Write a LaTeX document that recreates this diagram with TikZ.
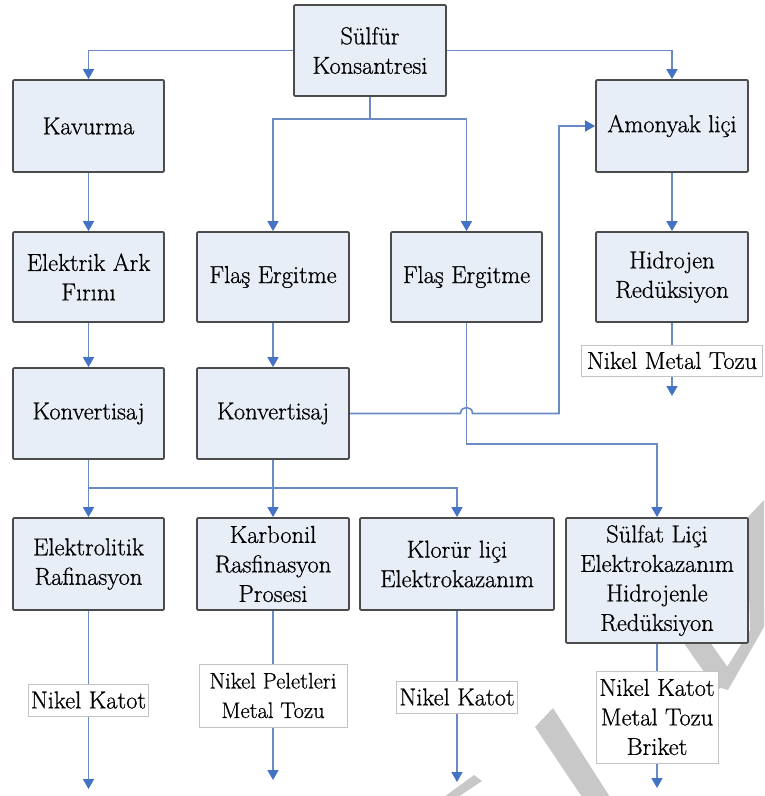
\documentclass[tikz,border=0pt]{standalone}
\usepackage{fontspec}
\newfontfamily\chartfont{Latin Modern Roman}[FakeBold=0.7]
\usetikzlibrary{arrows.meta,calc,backgrounds}

\definecolor{boxfill}{RGB}{232,238,247}
\definecolor{boxline}{RGB}{75,75,75}
\definecolor{linec}{RGB}{105,138,195}
\definecolor{arrowc}{RGB}{68,114,196}
\definecolor{tagline}{RGB}{195,195,195}
\definecolor{markc}{RGB}{200,200,200}

\tikzset{
  procbox/.style={draw=boxline, line width=1.8pt, fill=boxfill, rounded corners=1.2pt,
    inner sep=0pt, align=center, font=\chartfont\fontsize{24.5}{29.5}\selectfont},
  tagbox/.style={draw=tagline, line width=0.6pt, fill=white,
    inner sep=0pt, align=center, font=\chartfont\fontsize{24.5}{29.5}\selectfont},
  conn/.style={draw=linec, line width=1.6pt},
  arr/.style={conn, -{Triangle[width=11pt,length=10pt,color=arrowc]}},
  greystroke/.style={fill=markc, draw=none}
}

\begin{document}
\begin{tikzpicture}[x=1pt,y=-1pt]
\useasboundingbox (0,0) rectangle (764,796);

% process boxes
\node[procbox, minimum width=152pt, minimum height=91pt] (sulfur) at (370,50.5) {Sülfür\\Konsantresi};
\node[procbox, minimum width=151pt, minimum height=92pt] (kavurma) at (88.5,126) {Kavurma};
\node[procbox, minimum width=152pt, minimum height=92pt] (amonyak) at (672,126) {Amonyak liçi};

\node[procbox, minimum width=151pt, minimum height=90pt] (ark) at (88.5,277) {Elektrik Ark\\Fırını};
\node[procbox, minimum width=152pt, minimum height=90pt] (flas1) at (273,277) {Flaş Ergitme};
\node[procbox, minimum width=151pt, minimum height=90pt] (flas2) at (466.5,277) {Flaş Ergitme};
\node[procbox, minimum width=152pt, minimum height=90pt] (hidrojen) at (672,277) {Hidrojen\\Redüksiyon};

\node[procbox, minimum width=151pt, minimum height=91pt] (konv1) at (88.5,413.5) {Konvertisaj};
\node[procbox, minimum width=152pt, minimum height=91pt] (konv2) at (273,413.5) {Konvertisaj};

\node[procbox, minimum width=151pt, minimum height=92pt] (elektrolitik) at (88.5,564) {Elektrolitik\\Rafinasyon};
\node[procbox, minimum width=152pt, minimum height=92pt] (karbonil) at (273,564) {Karbonil\\Rasfinasyon\\Prosesi};
\node[procbox, minimum width=194pt, minimum height=92pt] (klorur) at (457,564) {Klorür liçi\\Elektrokazanım};
\node[procbox, minimum width=182pt, minimum height=125pt] (sulfat) at (657,580.5) {Sülfat Liçi\\Elektrokazanım\\Hidrojenle\\Redüksiyon};

% product tags
\node[tagbox, minimum width=181pt, minimum height=31pt] (nmt) at (672,360.5) {Nikel Metal Tozu};
\node[tagbox, minimum width=120pt, minimum height=32pt] (nk1) at (88.5,700) {Nikel Katot};
\node[tagbox, minimum width=148pt, minimum height=63pt, font=\chartfont\fontsize{22.5}{29.5}\selectfont] (npmt) at (273,695.5) {Nikel Peletleri\\Metal Tozu};
\node[tagbox, minimum width=121pt, minimum height=32pt] (nk2) at (457,697) {Nikel Katot};
\node[tagbox, minimum width=122pt, minimum height=92pt] (nkmb) at (657,717) {Nikel Katot\\Metal Tozu\\Briket};

% free ends of the outgoing arrows
\coordinate (e1) at (88.5,789);
\coordinate (e2) at (273,780);
\coordinate (e3) at (457,782);
\coordinate (e4) at (657,788);
\coordinate (e5) at (672,396);

% routing points
\coordinate (split) at ($(sulfur.south)+(0,22)$);
\coordinate (hop) at (flas2.south |- konv2.east);
\coordinate (rise) at (559,413.5);

\begin{pgfonlayer}{background}
  % faint lettering behind the chart
  \fill[greystroke] (553,708) -- (535,727) -- (582,797) -- (610,797) -- cycle;
  \fill[greystroke] (444,797) -- (474,775) -- (482,781) -- (458,797) -- cycle;
  \fill[greystroke] (669,583.7) -- (735,677.7) -- (717,690.3) -- (651,596.3) -- cycle;
  \fill[greystroke] (715,686) -- (764,608) -- (764,627) -- (728,690) -- cycle;
  \fill[greystroke] (747,518) -- (764,500) -- (764,625) -- (750,630) -- cycle;

  % feed split
  \draw[arr] (sulfur.west) -| (kavurma.north);
  \draw[arr] (sulfur.east) -| (amonyak.north);
  \draw[conn] (sulfur.south) -- (split);
  \draw[arr] (split) -| (flas1.north);
  \draw[arr] (split) -| (flas2.north);

  % vertical chains
  \draw[arr] (kavurma) -- (ark);
  \draw[arr] (ark) -- (konv1);
  \draw[arr] (flas1) -- (konv2);
  \draw[arr] (amonyak) -- (hidrojen);

  % matte to ammonia leach, hopping over the smelter line
  \draw[arr] (konv2.east) -- ($(hop)+(-6,0)$)
     .. controls ($(hop)+(-6,-8)$) and ($(hop)+(6,-8)$) .. ($(hop)+(6,0)$)
     -- (rise) |- (amonyak.west);

  % second smelter to sulphate leach
  \draw[arr] (flas2.south) -- ++(0,121) -| (sulfat.north);

  % converter outputs
  \draw[arr] (konv1.south) -- ++(0,28) -| (klorur.north);
  \draw[arr] (konv1) -- (elektrolitik);
  \draw[arr] (konv2) -- (karbonil);

  % products
  \draw[conn] (hidrojen.south) -- (nmt.north);
  \draw[arr] (nmt.south) -- (e5);
  \draw[conn] (elektrolitik.south) -- (nk1.north);
  \draw[arr] (nk1.south) -- (e1);
  \draw[conn] (karbonil.south) -- (npmt.north);
  \draw[arr] (npmt.south) -- (e2);
  \draw[conn] (klorur.south) -- (nk2.north);
  \draw[arr] (nk2.south) -- (e3);
  \draw[conn] (sulfat.south) -- (nkmb.north);
  \draw[arr] (nkmb.south) -- (e4);
\end{pgfonlayer}
\end{tikzpicture}
\end{document}
